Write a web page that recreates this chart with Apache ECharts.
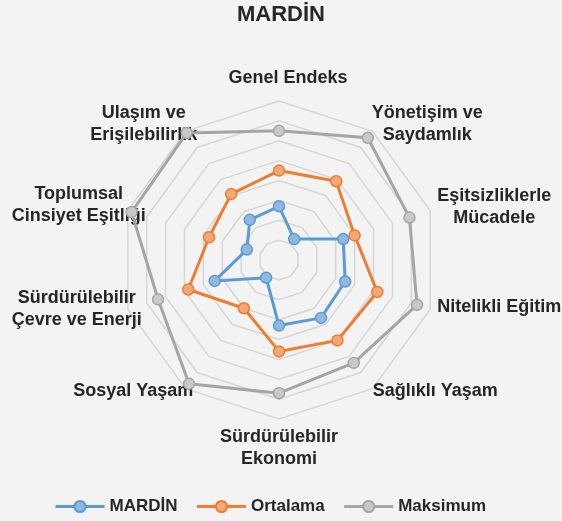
<!DOCTYPE html>
<html>
<head>
<meta charset="utf-8">
<script src="https://cdn.jsdelivr.net/npm/echarts@6/dist/echarts.min.js"></script>
<style>
  html, body { margin: 0; padding: 0; background: #f3f3f3; }
  #chart { width: 562px; height: 521px; }
</style>
</head>
<body>
<div id="chart"></div>
<script>
// Indicator names, clockwise from the top (line breaks as drawn)
const categories = [
  'Genel Endeks',
  'Yönetişim ve\nSaydamlık',
  'Eşitsizliklerle\nMücadele',
  'Nitelikli Eğitim',
  'Sağlıklı Yaşam',
  'Sürdürülebilir\nEkonomi',
  'Sosyal Yaşam',
  'Sürdürülebilir\nÇevre ve Enerji',
  'Toplumsal\nCinsiyet Eşitliği',
  'Ulaşım ve\nErişilebilirlik'
];

const seriesNames = ['MARDİN', 'Ortalama', 'Maksimum'];

// Index scores per indicator, same order as categories
const mardin   = [0.27, 0.13, 0.34, 0.35, 0.36, 0.33, 0.11, 0.34, 0.17, 0.25];
const ortalama = [0.45, 0.49, 0.40, 0.52, 0.50, 0.46, 0.30, 0.48, 0.37, 0.41];
const maksimum = [0.65, 0.76, 0.69, 0.73, 0.64, 0.67, 0.77, 0.64, 0.78, 0.79];

const axisMin = 0;
const axisMax = 0.8;
const ringCount = 8;

const FONT = '"Liberation Sans", Arial, sans-serif';
const TEXT_COLOR = '#262626';

const palette = [
  { line: '#5b9bd5', fill: '#8fb8e2' },
  { line: '#ed7d31', fill: '#f4a878' },
  { line: '#a5a5a5', fill: '#c9c9c9' }
];

// Extra room [top, right, bottom, left] around each indicator name
const namePad = [
  [0, 0, 32, 18],
  [0, 0, 48, 11],
  [0, 0, 20, 26],
  [8, 0, 0, 26],
  [37, 0, 0, 12],
  [27, 0, 0, 0],
  [37, 4, 0, 0],
  [13, 5, 0, 0],
  [0, 1, 24, 0],
  [0, 0, 47, 0]
];

// ECharts places indicators counter-clockwise; keep the first, reverse the rest
const toRadarOrder = arr => [arr[0]].concat(arr.slice(1).reverse());

const seriesValues = [mardin, ortalama, maksimum];

// Rich styles for the indicator names: first / last / single line per indicator
const rich = {};
namePad.forEach((p, i) => {
  const base = {
    fontSize: 18, fontWeight: 'bold', color: TEXT_COLOR,
    fontFamily: FONT, align: 'center'
  };
  rich['s' + i] = Object.assign({ padding: [2 + p[0], p[1], 2 + p[2], p[3]] }, base);
  rich['f' + i] = Object.assign({ padding: [2 + p[0], p[1], 2, p[3]] }, base);
  rich['l' + i] = Object.assign({ padding: [2, p[1], 2 + p[2], p[3]] }, base);
});

function formatName(name) {
  const i = categories.indexOf(name);
  const lines = name.split('\n');
  if (lines.length === 1) return '{s' + i + '|' + name + '}';
  return lines.map((ln, k) => '{' + (k === 0 ? 'f' : 'l') + i + '|' + ln + '}').join('\n');
}

const chart = echarts.init(document.getElementById('chart'), null, { renderer: 'canvas' });

const radarSeries = seriesNames.map((name, s) => ({
  type: 'radar',
  name: name,
  z: 3 - s,
  symbol: 'circle',
  symbolSize: 11,
  lineStyle: { color: palette[s].line, width: 3 },
  itemStyle: { color: palette[s].fill, borderColor: palette[s].line, borderWidth: 1.5 },
  data: [{ name: name, value: toRadarOrder(seriesValues[s]) }]
}));

// Empty line series give the legend its line-and-marker keys
const legendKeys = seriesNames.map((name, s) => ({
  type: 'line',
  name: name,
  xAxisIndex: 0,
  yAxisIndex: 0,
  symbol: 'circle',
  silent: true,
  lineStyle: { color: palette[s].line, width: 3 },
  itemStyle: { color: palette[s].fill, borderColor: palette[s].line, borderWidth: 1.5 },
  data: []
}));

chart.setOption({
  backgroundColor: '#f3f3f3',
  animation: false,
  title: {
    text: 'MARDİN',
    left: 'center',
    top: -1,
    textStyle: { fontSize: 22, fontWeight: 'bold', color: TEXT_COLOR, fontFamily: FONT }
  },
  legend: {
    data: seriesNames,
    left: 49,
    top: 493,
    itemWidth: 49,
    itemHeight: 14,
    itemGap: 18,
    lineStyle: { width: 3 },
    textStyle: { fontSize: 17, fontWeight: 'bold', color: TEXT_COLOR, fontFamily: FONT }
  },
  grid: { show: false, left: -20, top: -20, width: 1, height: 1 },
  xAxis: { type: 'value', show: false },
  yAxis: { type: 'value', show: false },
  radar: {
    center: [279, 260],
    radius: 159,
    startAngle: 90,
    splitNumber: ringCount,
    shape: 'polygon',
    indicator: toRadarOrder(categories).map(name => ({ name: name, min: axisMin, max: axisMax })),
    axisNameGap: -20,
    axisName: {
      color: TEXT_COLOR,
      fontSize: 18,
      fontWeight: 'bold',
      fontFamily: FONT,
      formatter: formatName,
      rich: rich
    },
    axisLine: { show: false },
    axisTick: { show: false },
    axisLabel: { show: false },
    splitArea: { show: false },
    splitLine: { lineStyle: { color: '#d6d6d6', width: 1.5 } }
  },
  series: legendKeys.concat(radarSeries)
});
</script>
</body>
</html>
